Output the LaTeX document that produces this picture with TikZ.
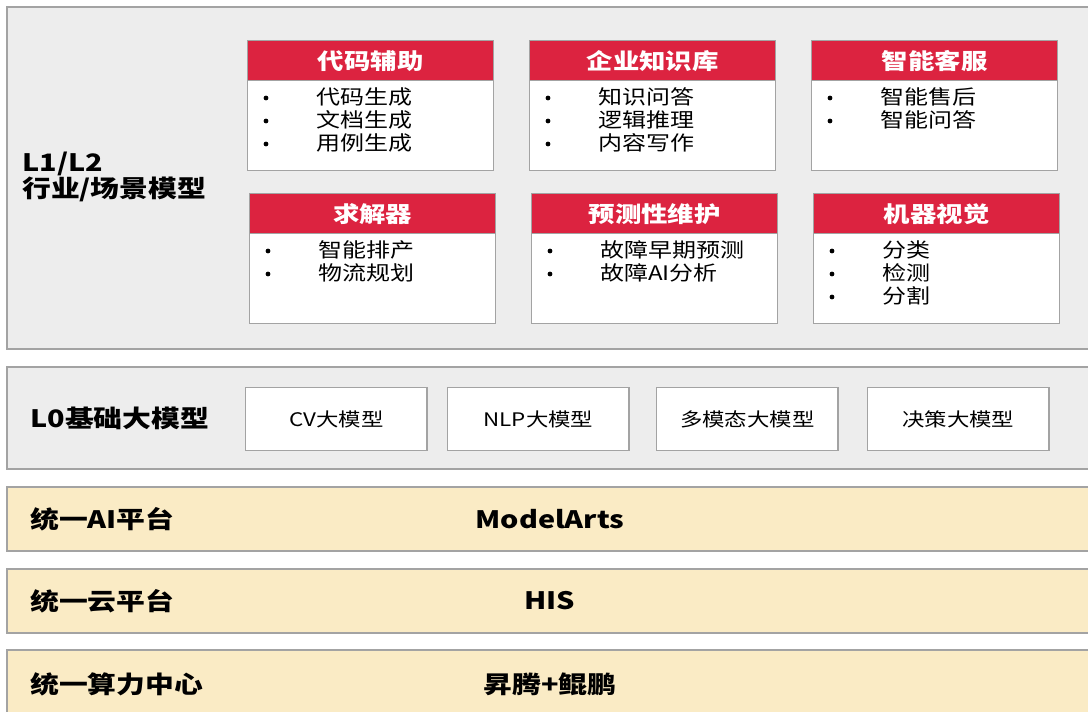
\documentclass[tikz,border=0pt]{standalone}
\usepackage{fontspec}
\setmainfont{Noto Sans CJK SC}[FakeStretch=1.2]
\usetikzlibrary{positioning}
\definecolor{panelgray}{HTML}{EDEDED}
\definecolor{edgegray}{HTML}{A3A3A3}
\definecolor{cardred}{HTML}{DC2340}
\definecolor{baseyellow}{HTML}{FAEBC5}
\begin{document}
\begin{tikzpicture}[x=0.75pt,y=-0.75pt,
  panel/.style={draw=edgegray,line width=1.3pt,fill=panelgray},
  band/.style={draw=edgegray,line width=1.3pt,fill=baseyellow},
  layer/.style={anchor=west,inner sep=0pt,align=left,font=\bfseries\fontsize{18}{22}\selectfont},
  head/.style={anchor=north west,draw=edgegray,line width=1pt,fill=cardred,text=white,
    minimum width=184.5pt,minimum height=30pt,inner sep=0pt,font=\bfseries\fontsize{16.5}{19}\selectfont},
  body/.style={anchor=north west,draw=edgegray,line width=1pt,fill=white,
    minimum width=184.5pt,minimum height=67.5pt,inner sep=0pt},
  item/.style={anchor=west,inner sep=0pt,font=\fontsize{15}{17}\selectfont},
  dot/.style={circle,fill=black,inner sep=0pt,minimum size=3.6pt},
  base/.style={draw=edgegray,line width=1pt,fill=white,minimum width=136pt,minimum height=47pt,
    inner sep=0pt,font=\fontsize{14}{17}\selectfont},
  mid/.style={inner sep=0pt,font=\bfseries\fontsize{18}{21}\selectfont}]
 \clip (0,0) rectangle (1088,712);
 \fill[white] (0,0) rectangle (1088,712);
 \draw[panel] (7,7) rectangle (1100,349);
 \draw[panel] (7,367) rectangle (1100,469);
 \draw[band] (7,487) rectangle (1100,551);
 \draw[band] (7,569) rectangle (1100,633);
 \draw[band] (7,650) rectangle (1100,730);
 \node[layer] (l12) at (22,177) {L1/L2\\[-3pt]行业/场景模型};
 \node[layer] (l0) at (30,418) {L0基础大模型};
 \node[layer] (ai) at (30,519) {统一AI平台};
 \node[layer] (cloud) at (30,601) {统一云平台};
 \node[layer] (power) at (30,684) {统一算力中心};
 \node[mid] (ma) at (550,519) {ModelArts};
 \node[mid] (his) at (550,601) {HIS};
 \node[mid] (chip) at (550,684) {昇腾+鲲鹏};
 \foreach \x/\t [count=\n] in {245/CV大模型,447/NLP大模型,656/多模态大模型,867/决策大模型}
  \node[base,anchor=north west] (m\n) at (\x,387) {\t};
 \foreach \x/\y/\t/\items [count=\n] in {
   247/40/代码辅助/{代码生成,文档生成,用例生成},
   529/40/企业知识库/{知识问答,逻辑推理,内容写作},
   811/40/智能客服/{智能售后,智能问答},
   249/193/求解器/{智能排产,物流规划},
   531/193/预测性维护/{故障早期预测,故障AI分析},
   813/193/机器视觉/{分类,检测,分割}} {
  \node[head] (h\n) at (\x,\y) {\t};
  \node[body] (b\n) at (\x,\y+40) {};
  \foreach \it [count=\i] in \items {
   \node[dot] (p\n-\i) at (\x+19,\y+58+23*\i-23) {};
   \node[item] (t\n-\i) at (\x+69,\y+57+23*\i-23) {\it};
  }
 }
\end{tikzpicture}
\end{document}
